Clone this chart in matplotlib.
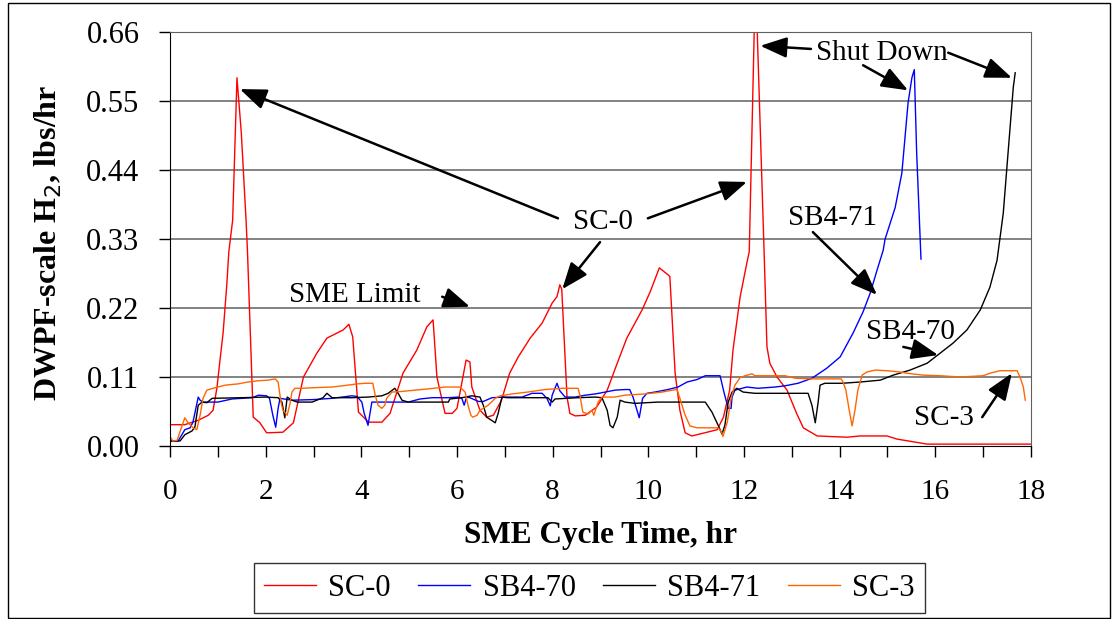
import matplotlib
matplotlib.use("Agg")
import matplotlib.pyplot as plt
from matplotlib.patches import Rectangle

plt.rcParams['font.family'] = ['Liberation Serif', 'DejaVu Serif']

# --- data (hours, lbs/hr) ---
sc0_t = [0, 0.31, 0.59, 0.8, 0.9, 0.98, 1.05, 1.11, 1.19, 1.23, 1.31, 1.40, 1.49, 1.59, 1.62,
         1.74, 1.88, 2.02, 2.36, 2.58, 2.79, 3.07, 3.28, 3.62, 3.74, 3.82, 3.94, 4.15, 4.43,
         4.6, 4.87, 5.16, 5.37, 5.5, 5.58, 5.75, 5.9, 6.0, 6.19, 6.27, 6.31, 6.48, 6.62, 6.76,
         6.93, 7.1, 7.28, 7.53, 7.78, 7.99, 8.09, 8.15, 8.19, 8.3, 8.36, 8.47, 8.68, 8.92,
         9.14, 9.35, 9.55, 9.87, 10.04, 10.23, 10.41, 10.45, 10.56, 10.66, 10.77, 10.91,
         11.23, 11.44, 11.57, 11.7, 11.77, 11.92, 12.06, 12.11, 12.24, 12.42, 12.48, 12.54,
         12.69, 12.9, 13.1, 13.24, 13.53, 14.15, 14.43, 14.99, 15.2, 15.83, 18.0]
sc0_v = [0.034, 0.034, 0.041, 0.049, 0.057, 0.092, 0.14, 0.18, 0.26, 0.31, 0.36, 0.587, 0.50,
         0.36, 0.31, 0.046, 0.037, 0.021, 0.022, 0.037, 0.11, 0.148, 0.172, 0.185, 0.194,
         0.174, 0.054, 0.038, 0.038, 0.052, 0.116, 0.153, 0.19, 0.201, 0.11, 0.052, 0.052,
         0.06, 0.137, 0.134, 0.094, 0.057, 0.046, 0.049, 0.073, 0.116, 0.142, 0.172, 0.196,
         0.228, 0.238, 0.257, 0.25, 0.078, 0.052, 0.048, 0.049, 0.062, 0.089, 0.132, 0.172,
         0.217, 0.246, 0.284, 0.273, 0.27, 0.116, 0.057, 0.021, 0.016, 0.022, 0.026, 0.046,
         0.089, 0.153, 0.238, 0.292, 0.31, 0.75, 0.31, 0.158, 0.132, 0.11, 0.089, 0.052,
         0.029, 0.016, 0.014, 0.016, 0.016, 0.011, 0.003, 0.003]

sb470_t = [0, 0.17, 0.31, 0.42, 0.48, 0.59, 0.63, 0.69, 1.0, 1.3, 1.72, 1.85, 2.02, 2.08, 2.15,
           2.21, 2.26, 2.3, 2.55, 3.0, 3.39, 3.8, 3.91, 4.01, 4.06, 4.14, 4.22, 4.7, 4.98,
           5.23, 5.48, 5.82, 6.02, 6.1, 6.15, 6.2, 6.27, 6.45, 6.55, 6.73, 7.0, 7.36, 7.57,
           7.78, 7.88, 7.95, 7.99, 8.09, 8.15, 8.26, 8.47, 8.68, 8.89, 9.1, 9.3, 9.51, 9.61,
           9.68, 9.81, 9.88, 9.97, 10.14, 10.41, 10.62, 10.81, 11.02, 11.19, 11.5, 11.58,
           11.67, 11.73, 11.75, 11.81, 11.96, 12.06, 12.29, 12.65, 12.86, 13.13, 13.42, 13.73,
           14.01, 14.28, 14.49, 14.64, 14.78, 14.91, 14.95, 15.16, 15.3, 15.43, 15.51, 15.56,
           15.61, 15.70]
sb470_v = [0.008, 0.008, 0.026, 0.029, 0.038, 0.078, 0.073, 0.07, 0.07, 0.075, 0.077, 0.081,
           0.08, 0.076, 0.049, 0.03, 0.06, 0.076, 0.073, 0.074, 0.076, 0.08, 0.079, 0.07,
           0.052, 0.033, 0.07, 0.07, 0.07, 0.075, 0.077, 0.077, 0.078, 0.076, 0.065, 0.078,
           0.077, 0.071, 0.071, 0.077, 0.078, 0.078, 0.084, 0.084, 0.076, 0.064, 0.081, 0.1,
           0.088, 0.078, 0.078, 0.081, 0.083, 0.086, 0.089, 0.09, 0.09, 0.078, 0.045, 0.076,
           0.084, 0.086, 0.09, 0.094, 0.102, 0.106, 0.112, 0.112, 0.086, 0.06, 0.06, 0.078,
           0.089, 0.092, 0.094, 0.092, 0.094, 0.096, 0.1, 0.108, 0.124, 0.142, 0.18, 0.214,
           0.244, 0.28, 0.312, 0.33, 0.38, 0.435, 0.547, 0.587, 0.6, 0.467, 0.298]

sb471_t = [0, 0.21, 0.31, 0.46, 0.52, 0.59, 0.67, 0.77, 0.88, 1.5, 1.99, 2.26, 2.34, 2.4, 2.45,
           2.55, 2.66, 2.97, 3.2, 3.28, 3.39, 3.8, 4.14, 4.43, 4.56, 4.7, 4.77, 4.85, 4.98,
           5.82, 5.85, 6.1, 6.31, 6.48, 6.55, 6.62, 6.8, 6.86, 6.94, 7.05, 7.9, 7.99, 8.05,
           8.53, 8.89, 9.03, 9.14, 9.2, 9.26, 9.35, 9.41, 9.51, 9.72, 10.2, 11.19, 11.33,
           11.46, 11.54, 11.6, 11.67, 11.75, 11.85, 11.98, 12.23, 13.34, 13.42, 13.49, 13.55,
           13.59, 13.69, 14.05, 14.43, 14.85, 15.12, 15.47, 15.83, 16.1, 16.37, 16.66, 16.94,
           17.14, 17.29, 17.42, 17.52, 17.63, 17.67]
sb471_v = [0.008, 0.008, 0.018, 0.024, 0.03, 0.065, 0.07, 0.069, 0.076, 0.077, 0.078, 0.077,
           0.07, 0.045, 0.078, 0.073, 0.07, 0.07, 0.077, 0.084, 0.077, 0.077, 0.078, 0.08,
           0.084, 0.092, 0.084, 0.073, 0.07, 0.07, 0.075, 0.077, 0.08, 0.078, 0.065, 0.046,
           0.037, 0.052, 0.078, 0.077, 0.077, 0.07, 0.075, 0.077, 0.078, 0.077, 0.057, 0.033,
           0.029, 0.046, 0.073, 0.07, 0.068, 0.07, 0.07, 0.054, 0.033, 0.019, 0.033, 0.07,
           0.086, 0.092, 0.086, 0.084, 0.084, 0.065, 0.037, 0.07, 0.097, 0.1, 0.1, 0.102,
           0.105, 0.113, 0.121, 0.132, 0.148, 0.164, 0.185, 0.217, 0.253, 0.296, 0.371, 0.467,
           0.572, 0.595]

sc3_t = [0, 0.06, 0.15, 0.21, 0.31, 0.38, 0.48, 0.56, 0.63, 0.69, 0.77, 0.9, 1.0, 1.15, 1.42,
         1.63, 1.84, 2.05, 2.2, 2.26, 2.32, 2.36, 2.45, 2.51, 2.55, 2.61, 2.76, 3.03, 3.39,
         3.72, 3.91, 4.08, 4.24, 4.29, 4.35, 4.43, 4.49, 4.53, 4.64, 4.85, 5.12, 5.39, 5.75,
         6.06, 6.17, 6.23, 6.29, 6.33, 6.42, 6.48, 6.65, 6.8, 6.9, 7.15, 7.48, 7.84, 8.2,
         8.53, 8.57, 8.63, 8.74, 8.82, 8.86, 8.95, 9.03, 9.3, 9.51, 9.93, 10.29, 10.5, 10.6,
         10.66, 10.77, 10.87, 11.02, 11.46, 11.54, 11.56, 11.65, 11.73, 11.81, 11.92, 12.02,
         12.17, 12.23, 12.86, 13.07, 13.42, 14.03, 14.07, 14.13, 14.2, 14.26, 14.32, 14.38,
         14.47, 14.57, 14.74, 14.99, 15.26, 15.41, 15.74, 16.1, 16.52, 17.0, 17.14, 17.35,
         17.71, 17.77, 17.84, 17.88]
sc3_v = [0.015, 0.008, 0.009, 0.023, 0.045, 0.037, 0.029, 0.026, 0.049, 0.076, 0.089, 0.092,
         0.094, 0.097, 0.099, 0.102, 0.104, 0.105, 0.107, 0.102, 0.07, 0.057, 0.049, 0.068,
         0.086, 0.092, 0.092, 0.093, 0.094, 0.097, 0.099, 0.1, 0.1, 0.081, 0.065, 0.06,
         0.065, 0.076, 0.086, 0.087, 0.089, 0.091, 0.094, 0.094, 0.086, 0.065, 0.049, 0.046,
         0.049, 0.057, 0.065, 0.076, 0.08, 0.083, 0.086, 0.09, 0.092, 0.092, 0.081, 0.054,
         0.051, 0.057, 0.049, 0.07, 0.078, 0.078, 0.081, 0.083, 0.086, 0.089, 0.09, 0.076,
         0.049, 0.032, 0.029, 0.029, 0.021, 0.015, 0.038, 0.076, 0.097, 0.109, 0.112, 0.115,
         0.112, 0.112, 0.108, 0.107, 0.107, 0.102, 0.089, 0.057, 0.032, 0.057, 0.089, 0.113,
         0.118, 0.121, 0.12, 0.118, 0.116, 0.113, 0.112, 0.11, 0.112, 0.116, 0.12, 0.12,
         0.11, 0.094, 0.073]

y_ticks = [0.00, 0.11, 0.22, 0.33, 0.44, 0.55, 0.66]
x_ticks = list(range(0, 19))

fig = plt.figure(figsize=(11.16, 6.19), dpi=100)
ax = fig.add_axes([170 / 1116, 1 - 446 / 619, (1031 - 170) / 1116, (446 - 32) / 619])

ax.plot(sc0_t, sc0_v, color='#ff0000', lw=1.0, label='SC-0')
ax.plot(sb470_t, sb470_v, color='#0000ff', lw=1.0, label='SB4-70')
ax.plot(sb471_t, sb471_v, color='black', lw=1.0, label='SB4-71')
ax.plot(sc3_t, sc3_v, color='#ff6600', lw=1.0, label='SC-3')

ax.set_xlim(0, 18)
ax.set_ylim(0, 0.66)
ax.set_yticks(y_ticks)
ax.set_yticklabels([f"{v:.2f}" for v in y_ticks])
ax.set_xticks(x_ticks)
ax.set_xticklabels([str(x) if x % 2 == 0 else '' for x in x_ticks])
ax.tick_params(axis='both', direction='out', length=8, width=1, pad=8)
ax.tick_params(axis='y', labelsize=22, pad=14)
ax.tick_params(axis='x', labelsize=21, pad=16)
for y in y_ticks[1:-1]:
    ax.axhline(y, color='#606060', lw=1.1, zorder=0)
for s in ['top', 'right']:
    ax.spines[s].set_color('#606060')
for s in ['left', 'bottom']:
    ax.spines[s].set_color('black')

ax.set_xlabel('SME Cycle Time, hr', fontsize=22.5, fontweight='bold')
ax.xaxis.set_label_coords(0.5, (446 - 521) / 414)
ax.set_ylabel('DWPF-scale H$_2$, lbs/hr', fontsize=23, fontweight='bold')
ax.yaxis.set_label_coords((64 - 170) / 861, 0.49)

# annotations
txt = dict(fontsize=21, ha='center', va='center')
ax.text(14.89, 0.627, 'Shut Down', **txt)
ax.text(9.05, 0.357, 'SC-0', **txt)
ax.text(13.84, 0.363, 'SB4-71', **txt)
ax.text(15.47, 0.182, 'SB4-70', **txt)
ax.text(16.18, 0.045, 'SC-3', **txt)
ax.text(3.87, 0.241, 'SME Limit', **txt)

arrows = [
    ((12.34, 0.638), (13.40, 0.633)),
    ((15.43, 0.567), (14.49, 0.607)),
    ((17.60, 0.587), (16.27, 0.627)),
    ((1.46, 0.569), (8.11, 0.363)),
    ((12.06, 0.421), (9.99, 0.363)),
    ((8.20, 0.250), (8.99, 0.325)),
    ((14.78, 0.241), (13.44, 0.341)),
    ((16.06, 0.145), (15.33, 0.158)),
    ((17.60, 0.116), (16.98, 0.046)),
    ((6.27, 0.222), (5.69, 0.238)),
]
for head, tail in arrows:
    ax.annotate('', xy=head, xytext=tail,
                arrowprops=dict(arrowstyle='-|>,head_length=0.9,head_width=0.35',
                                color='black', lw=1.8, shrinkA=0, shrinkB=0,
                                mutation_scale=18))

leg = fig.legend(loc='center', bbox_to_anchor=(589.5 / 1116, 1 - 588 / 619), ncol=4,
                 fontsize=22, frameon=True, fancybox=False, edgecolor='black',
                 handlelength=1.7, handletextpad=0.4, columnspacing=0.9,
                 borderpad=0.35)
leg.get_frame().set_linewidth(1.0)

fig.patches.append(Rectangle((8 / 1116, 1 / 619), (1110 - 8) / 1116, (616 - 1) / 619,
                             transform=fig.transFigure, fill=False, edgecolor='black',
                             lw=1.0))

fig.savefig('out.png', dpi=100)
